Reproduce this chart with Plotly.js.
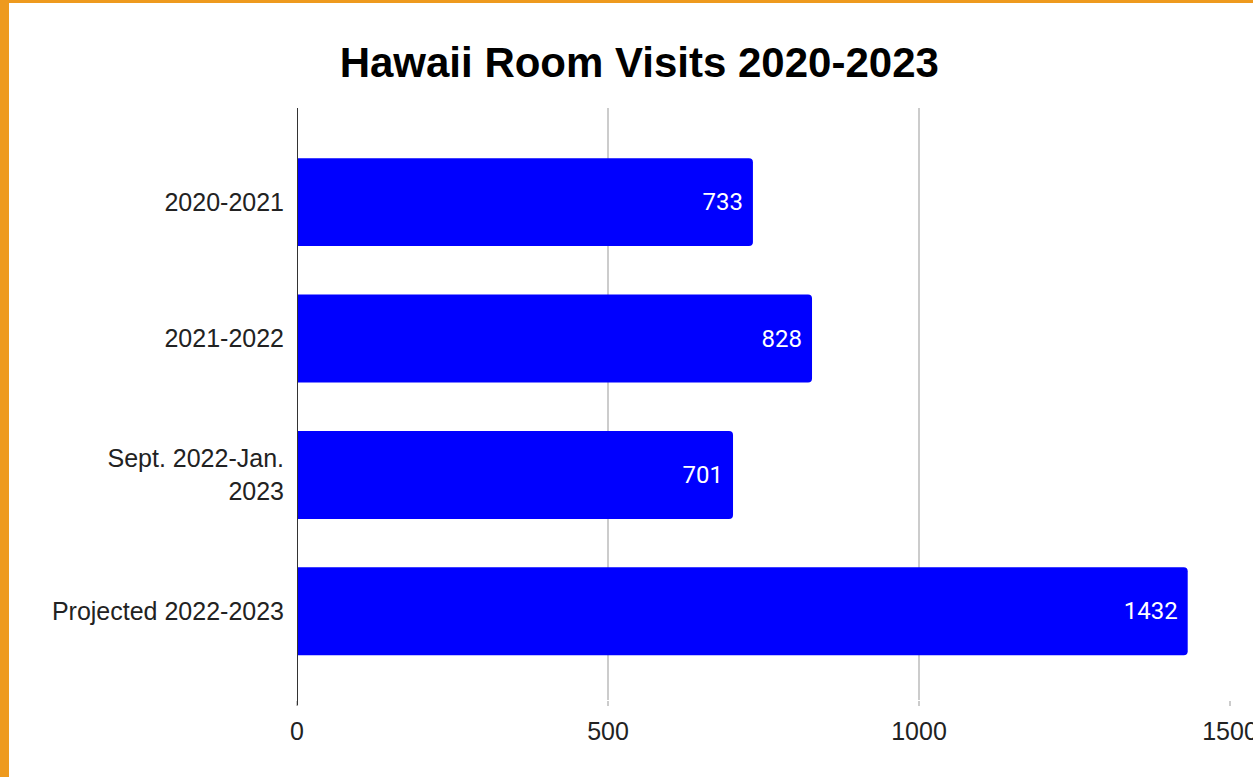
<!DOCTYPE html>
<html>
<head>
<meta charset="utf-8">
<script src="https://cdn.plot.ly/plotly-3.0.1.min.js"></script>
<style>
  html, body { margin: 0; padding: 0; width: 1253px; height: 777px; overflow: hidden; background: #EE9A1E; }
  #chart { position: absolute; left: 9px; top: 3px; width: 1253px; height: 774px; background: #fff; }
</style>
</head>
<body>
<div id="chart"></div>
<script>
const categories = ["2020-2021", "2021-2022", "Sept. 2022-Jan.<br>2023", "Projected 2022-2023"];
const visits = [733, 828, 701, 1432];
const xTicks = [0, 500, 1000, 1500];
const chartTitle = "Hawaii Room Visits 2020-2023";

const trace = {
  type: "bar",
  orientation: "h",
  y: categories,
  x: visits,
  marker: { color: "#0000FF" },
  texttemplate: "%{x}\u00a0",
  textposition: "inside",
  insidetextanchor: "end",
  textangle: 0,
  textfont: { family: "Roboto, sans-serif", size: 24, color: "#ffffff" },
  hoverinfo: "skip"
};

const layout = {
  width: 1253,
  height: 774,
  margin: { l: 288, r: 32, t: 105, b: 77 },
  paper_bgcolor: "#ffffff",
  plot_bgcolor: "#ffffff",
  showlegend: false,
  bargap: 0.355,
  barcornerradius: 4,
  title: {
    text: "<b>" + chartTitle + "</b>",
    font: { family: "Liberation Sans, Arial, sans-serif", size: 42, color: "#000000" },
    xref: "container", yref: "container",
    x: 0.503, xanchor: "center",
    y: 0.924, yanchor: "middle"
  },
  xaxis: {
    range: [0, 1500],
    tickvals: xTicks,
    ticktext: xTicks.map(String),
    showgrid: true,
    gridcolor: "#cccccc",
    gridwidth: 1.5,
    zeroline: false,
    showline: false,
    ticks: "outside",
    ticklen: 5,
    tickcolor: "#cccccc",
    tickwidth: 1.5,
    ticklabelstandoff: 4,
    tickfont: { family: "Liberation Sans, Arial, sans-serif", size: 25, color: "#222222" },
    fixedrange: true
  },
  yaxis: {
    type: "category",
    categoryorder: "array",
    categoryarray: categories,
    range: [3.65, -0.69],
    showgrid: false,
    zeroline: false,
    showline: false,
    ticks: "",
    ticklabelstandoff: 12,
    tickfont: { family: "Liberation Sans, Arial, sans-serif", size: 25, color: "#222222" },
    fixedrange: true
  },
  shapes: [{
    type: "line",
    xref: "x", yref: "paper",
    x0: 0, x1: 0, y0: -0.009, y1: 1,
    line: { color: "#333333", width: 2 },
    layer: "above"
  }]
};

Plotly.newPlot("chart", [trace], layout, { displayModeBar: false, staticPlot: true });
</script>
</body>
</html>
